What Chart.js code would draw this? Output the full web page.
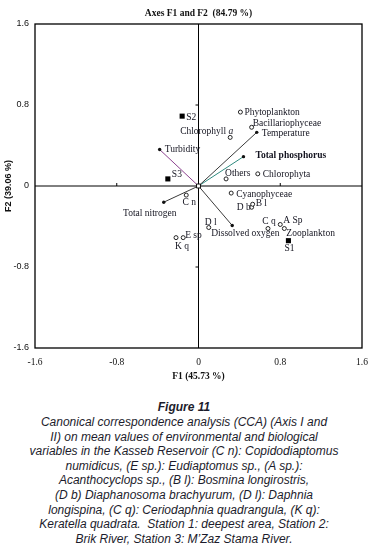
<!DOCTYPE html>
<html>
<head>
<meta charset="utf-8">
<script src="https://cdn.jsdelivr.net/npm/chart.js@4.4.1/dist/chart.umd.min.js"></script>
<style>
  body { margin: 0; background: #fff; }
  #wrap { position: relative; width: 377px; height: 554px; }
  #cca { position: absolute; left: 0; top: 0; }
  #caption {
    position: absolute; left: 0; top: 399px; width: 368px;
    text-align: center; font-family: "Liberation Sans", Arial, sans-serif;
    font-style: italic; font-size: 12px; line-height: 14.6px; color: #1c1c2c;
  }
  #caption b { font-size: 12px; line-height: 16px; display: block; }
</style>
</head>
<body>
<div id="wrap">
  <canvas id="cca" width="377" height="390"></canvas>
  <div id="caption">
    <b>Figure 11</b>
    Canonical correspondence analysis (CCA) (Axis I and<br>
    II) on mean values of environmental and biological<br>
    variables in the Kasseb Reservoir (C n): Copidodiaptomus<br>
    numidicus, (E sp.): Eudiaptomus sp., (A sp.):<br>
    Acanthocyclops sp., (B l): Bosmina longirostris,<br>
    (D b) Diaphanosoma brachyurum, (D l): Daphnia<br>
    longispina, (C q): Ceriodaphnia quadrangula, (K q):<br>
    Keratella quadrata.&nbsp; Station 1: deepest area, Station 2:<br>
    Brik River, Station 3: M’Zaz Stama River.
  </div>
</div>
<script>
"use strict";

// biological variables (open circles)
const speciesNames = ['Phytoplankton', 'Bacillariophyceae', 'Chlorophyll a', 'Others', 'Chlorophyta',
    'Cyanophyceae', 'C n', 'D l', 'E sp', 'K q', 'D b', 'B l', 'C q', 'A Sp', 'Zooplankton'];
const speciesF1 = [0.41, 0.52, 0.31, 0.27, 0.58, 0.32, -0.12, 0.10, -0.15, -0.22, 0.52, 0.53, 0.68, 0.80, 0.84];
const speciesF2 = [0.73, 0.58, 0.48, 0.07, 0.12, -0.07, -0.09, -0.41, -0.51, -0.51, -0.21, -0.18, -0.42, -0.38, -0.42];

// stations (filled squares)
const stationNames = ['S1', 'S2', 'S3'];
const stationF1 = [0.88, -0.16, -0.30];
const stationF2 = [-0.54, 0.69, 0.07];

// environmental vectors
const envNames = ['Temperature', 'Total phosphorus', 'Turbidity', 'Total nitrogen', 'Dissolved oxygen'];
const envF1 = [0.57, 0.44, -0.38, -0.34, 0.33];
const envF2 = [0.53, 0.29, 0.36, -0.16, -0.39];

const tickValues = [-1.6, -0.8, 0, 0.8, 1.6];
const tickLabels = ['-1.6', '-0.8', '0', '0.8', '1.6'];

// where each label sits relative to its mark: [dx, dy, align]
const labelPlace = {
    'Phytoplankton': [4, 0, 'left'], 'Bacillariophyceae': [1, -4, 'left'], 'Chlorophyll a': [3, -6, 'right'],
    'Others': [-1, -5, 'left'], 'Chlorophyta': [5, 1, 'left'], 'Cyanophyceae': [5, 1, 'left'],
    'C n': [3, 7, 'center'], 'D l': [2, -5, 'center'], 'E sp': [2, -2, 'left'], 'K q': [6, 9, 'center'],
    'D b': [-1, 0, 'right'], 'B l': [3, -1, 'left'], 'C q': [1, -7, 'center'], 'A Sp': [3, -4, 'left'],
    'Zooplankton': [2, 5, 'left'],
    'S1': [1, 8, 'center'], 'S2': [4, 1, 'left'], 'S3': [4, -4, 'left'],
    'Temperature': [5, 1, 'left'], 'Total phosphorus': [12, -1, 'left'], 'Turbidity': [5, 0, 'left'],
    'Total nitrogen': [-14, 11, 'center'], 'Dissolved oxygen': [-21, 8, 'left']
};
const envColors = ['#3a3a3a', '#2f8a7f', '#8c428f', '#3a3a3a', '#3a3a3a'];

const SERIF = '"Liberation Serif", "Times New Roman", serif';
const SANS = '"Liberation Sans", Arial, sans-serif';

const toPoints = (xs, ys) => xs.map((x, i) => ({ x, y: ys[i] }));

const envDatasets = envNames.map((name, i) => ({
    type: 'line',
    label: name,
    data: [{ x: 0, y: 0 }, { x: envF1[i], y: envF2[i] }],
    showLine: true,
    borderColor: envColors[i],
    borderWidth: 1,
    pointRadius: [0, 1.7],
    pointBackgroundColor: '#111',
    pointBorderWidth: 0,
    order: 3
}));

// frame, centre axes and their small ticks
const framePlugin = {
    id: 'frame',
    beforeDatasetsDraw(chart) {
        const { ctx, chartArea: a, scales: { x, y } } = chart;
        const x0 = x.getPixelForValue(0), y0 = y.getPixelForValue(0);
        ctx.save();
        ctx.strokeStyle = '#000';
        ctx.lineWidth = 1.3;
        ctx.strokeRect(a.left, a.top, a.right - a.left, a.bottom - a.top);
        ctx.lineWidth = 1;
        ctx.beginPath();
        ctx.moveTo(x0, a.top); ctx.lineTo(x0, a.bottom);
        ctx.moveTo(a.left, y0); ctx.lineTo(a.right, y0);
        [-0.8, 0.8].forEach(v => {
            const px = x.getPixelForValue(v), py = y.getPixelForValue(v);
            ctx.moveTo(px, y0); ctx.lineTo(px, y0 - 3);
            ctx.moveTo(x0, py); ctx.lineTo(x0 - 3, py);
        });
        ctx.stroke();
        ctx.restore();
    }
};

// text next to each mark
const labelPlugin = {
    id: 'pointLabels',
    afterDatasetsDraw(chart) {
        const { ctx, scales: { x, y } } = chart;
        const draw = (name, vx, vy, bold) => {
            const [dx, dy, align] = labelPlace[name];
            const px = x.getPixelForValue(vx) + dx, py = y.getPixelForValue(vy) + dy;
            const font = (bold ? 'bold ' : '') + '9.5px ' + SERIF;
            ctx.font = font;
            ctx.textBaseline = 'middle';
            ctx.fillStyle = '#141420';
            if (name === 'Chlorophyll a') { // italic "a"
                const head = 'Chlorophyll ';
                const w1 = ctx.measureText(head).width;
                ctx.font = 'italic 9.5px ' + SERIF;
                const w2 = ctx.measureText('a').width;
                const start = px - (w1 + w2);
                ctx.textAlign = 'left';
                ctx.font = font;
                ctx.fillText(head, start, py);
                ctx.font = 'italic 9.5px ' + SERIF;
                ctx.fillText('a', start + w1, py);
                return;
            }
            ctx.textAlign = align;
            ctx.fillText(name, px, py);
        };
        ctx.save();
        speciesNames.forEach((n, i) => draw(n, speciesF1[i], speciesF2[i], false));
        stationNames.forEach((n, i) => draw(n, stationF1[i], stationF2[i], false));
        envNames.forEach((n, i) => draw(n, envF1[i], envF2[i], n === 'Total phosphorus'));
        ctx.restore();
    }
};

const axisTicks = {
    min: -1.6, max: 1.6,
    afterBuildTicks: scale => { scale.ticks = tickValues.map(value => ({ value })); }
};

new Chart(document.getElementById('cca'), {
    type: 'scatter',
    data: {
        datasets: [
            {
                label: 'origin',
                data: [{ x: 0, y: 0 }],
                pointStyle: 'rect', pointRadius: 2.8,
                pointBackgroundColor: '#fff', pointBorderColor: '#111', pointBorderWidth: 1,
                order: 0
            },
            {
                label: 'Stations',
                data: toPoints(stationF1, stationF2),
                pointStyle: 'rect', pointRadius: 3.6,
                pointBackgroundColor: '#000', pointBorderColor: '#000', pointBorderWidth: 0,
                order: 1
            },
            {
                label: 'Variables',
                data: toPoints(speciesF1, speciesF2),
                pointStyle: 'circle', pointRadius: 2,
                pointBackgroundColor: '#fff', pointBorderColor: '#222', pointBorderWidth: 1,
                order: 2
            },
            ...envDatasets
        ]
    },
    options: {
        responsive: false,
        animation: false,
        layout: { padding: { left: 0, right: 15, top: 0, bottom: 0 } },
        plugins: {
            legend: { display: false },
            tooltip: { enabled: false },
            title: {
                display: true,
                fullSize: false,
                text: 'Axes F1 and F2  (84.79 %)',
                color: '#111',
                font: { family: SERIF, size: 9.5, weight: 'bold' },
                padding: { top: 8, bottom: 4.6 }
            }
        },
        scales: {
            x: {
                type: 'linear',
                ...axisTicks,
                afterFit: s => { s.height = 42; },
                grid: { display: false, drawTicks: false },
                border: { display: false },
                ticks: {
                    callback: (v, i) => tickLabels[i],
                    color: '#111', padding: 9,
                    font: { family: SERIF, size: 9.5 },
                    maxRotation: 0, autoSkip: false
                },
                title: {
                    display: true, text: 'F1 (45.73 %)', color: '#111',
                    font: { family: SERIF, size: 9.5, weight: 'bold' },
                    padding: { top: 0, bottom: 7.5 }
                }
            },
            y: {
                type: 'linear',
                ...axisTicks,
                afterFit: s => { s.width = 35; },
                grid: { display: false, drawTicks: false },
                border: { display: false },
                ticks: {
                    callback: (v, i) => tickLabels[i],
                    color: '#111', padding: 6,
                    font: { family: SANS, size: 9 },
                    autoSkip: false
                },
                title: {
                    display: true, text: 'F2 (39.06 %)', color: '#111',
                    font: { family: SANS, size: 9, weight: 'bold' },
                    padding: { top: 3, bottom: 0 }
                }
            }
        }
    },
    plugins: [framePlugin, labelPlugin]
});
</script>
</body>
</html>
